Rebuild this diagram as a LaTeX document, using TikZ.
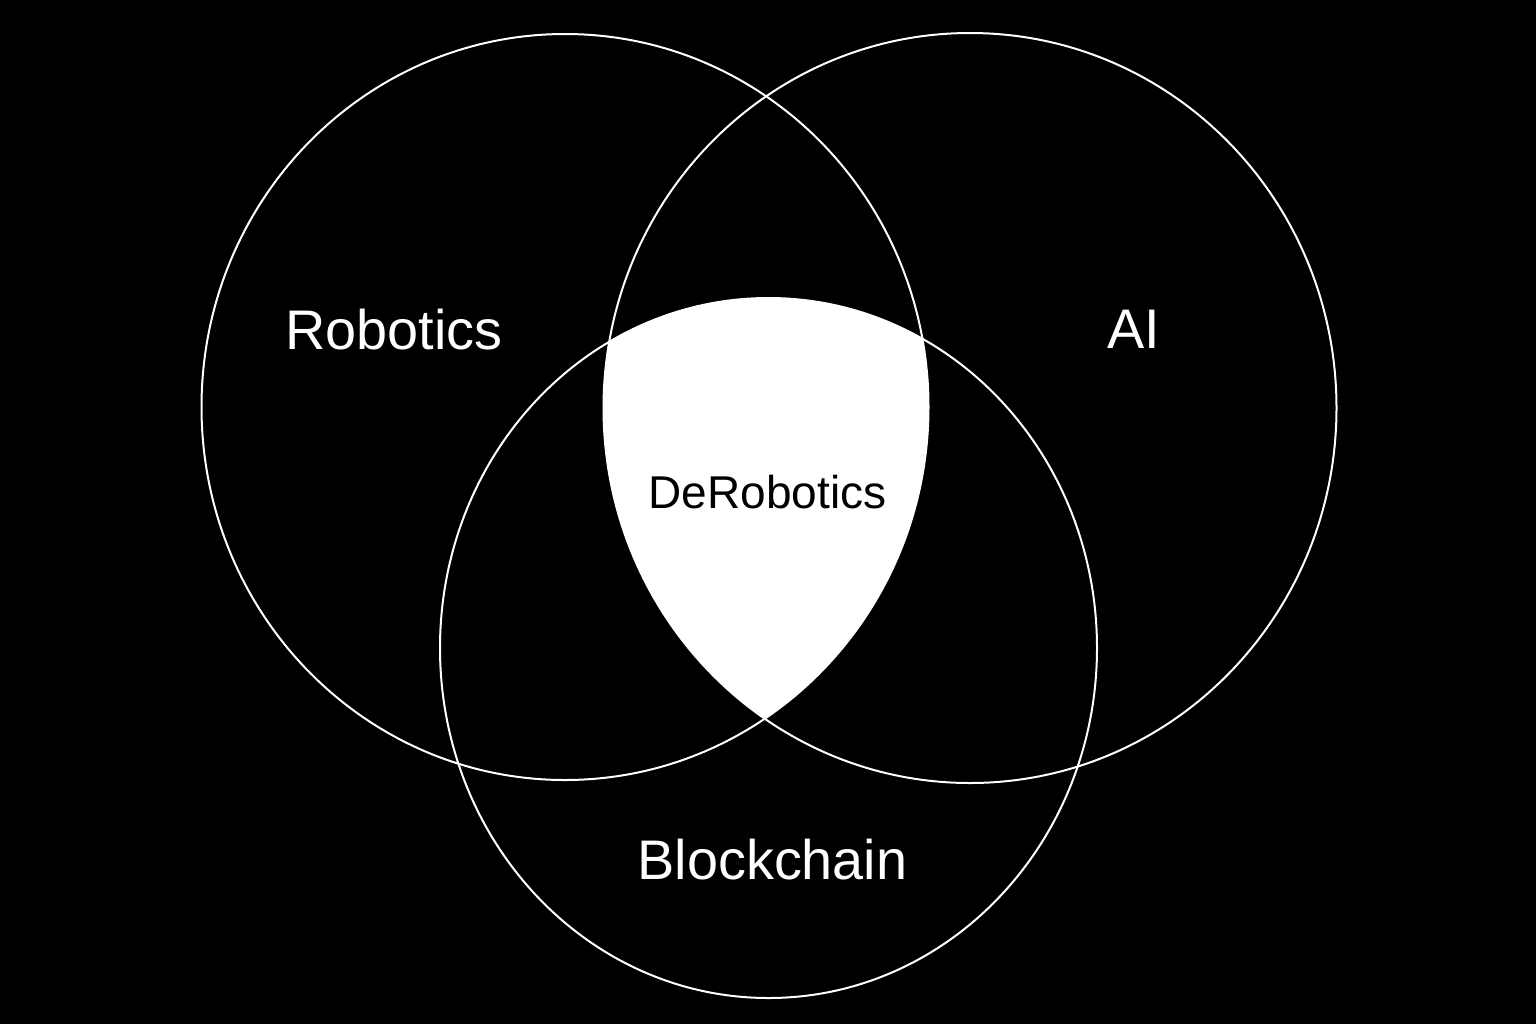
\documentclass[tikz,border=0pt]{standalone}
\usepackage{fontspec}
\setmainfont{Liberation Sans}
\usepackage{xcolor}
\usepackage{tikz}

\tikzset{
    ring/.style = {draw = white, line width = 1pt},
    setlabel/.style = {text = white, anchor = base, inner sep = 0pt,
        font = \fontsize{27.9}{30}\selectfont},
    corelabel/.style = {text = black, anchor = base, inner sep = 0pt,
        font = \fontsize{23}{26}\selectfont}
}

\begin{document}
\begin{tikzpicture}[x = 0.5pt, y = -0.5pt]
        \fill[black] (0, 0) rectangle (1536, 1024);
        \useasboundingbox (0, 0) rectangle (1536, 1024);

        \begin{scope}
            \clip (565, 407) ellipse [x radius = 363.5, y radius = 373];
            \clip (970, 408) ellipse [x radius = 366.5, y radius = 375];
            \fill[white] (768.5, 648) ellipse [x radius = 328.5, y radius = 350];
        \end{scope}

        \draw[ring] (565, 407) ellipse [x radius = 363.5, y radius = 373];
        \draw[ring] (970, 408) ellipse [x radius = 366.5, y radius = 375];
        \draw[ring] (768.5, 648) ellipse [x radius = 328.5, y radius = 350];

        \node[setlabel] (robotics) at (394, 349.3) {Robotics};
        \node[setlabel] (ai) at (1134, 348.3) {AI};
        \node[setlabel] (blockchain) at (772.5, 879.3) {Blockchain};
        \node[corelabel] (derobotics) at (767.5, 508.2) {DeRobotics};
\end{tikzpicture}
\end{document}
